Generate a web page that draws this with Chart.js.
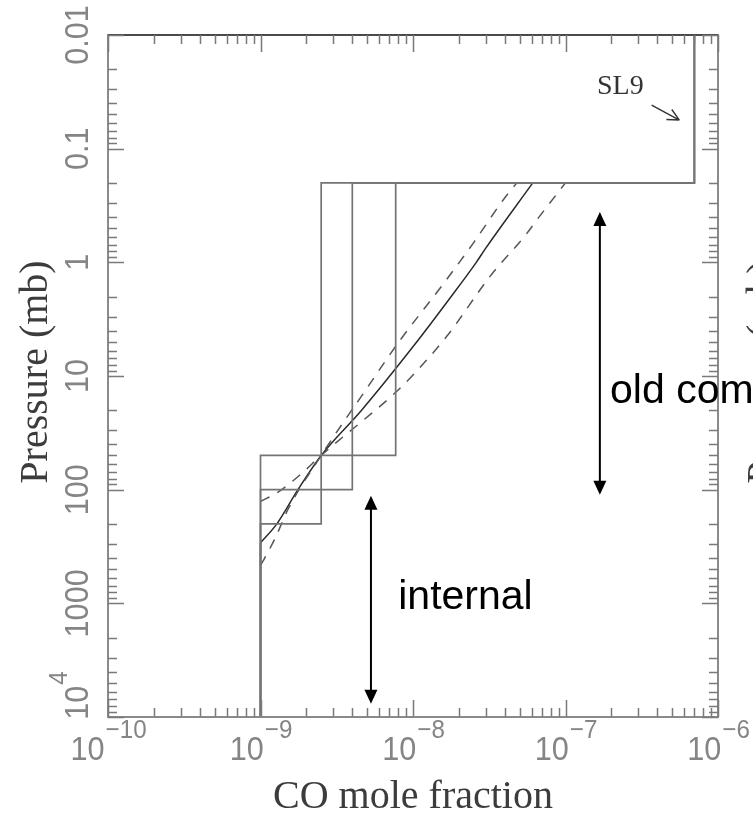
<!DOCTYPE html>
<html><head><meta charset="utf-8">
<script src="https://cdn.jsdelivr.net/npm/chart.js@4"></script>
<style>html,body{margin:0;padding:0;background:#fff;}#wrap{width:753px;height:822px;position:relative;}</style>
</head><body><div id="wrap"><canvas id="c" width="753" height="822"></canvas></div>
<script>
// ---------------- data ----------------
const xDecades = [-10, -9, -8, -7, -6];
const xTickLabels = [['10','\u221210'],['10','\u22129'],['10','\u22128'],['10','\u22127'],['10','\u22126']];
const yTickValues = [0.01, 0.1, 1, 10, 100, 1000, 10000];
const yTickLabels = ['0.01', '0.1', '1', '10', '100', '1000', '10^4'];

// step profiles (CO mole fraction vs pressure in mb)
const stepA_x = [1e-9, 1e-9, 2.5e-9, 2.5e-9, 7e-7, 7e-7];
const stepA_p = [1e4, 200, 200, 0.2, 0.2, 0.01];
const stepB_x = [1e-9, 1e-9, 4e-9, 4e-9, 7e-7, 7e-7];
const stepB_p = [1e4, 100, 100, 0.2, 0.2, 0.01];
const stepC_x = [1e-9, 1e-9, 7.7e-9, 7.7e-9, 7e-7, 7e-7];
const stepC_p = [1e4, 50, 50, 0.2, 0.2, 0.01];

// deep (internal) constant part of the diffusive profiles
const base_x = [1e-9, 1e-9];
const base_p = [1e4, 294];
// diffusive profiles
const solid_x = [1e-9, 1.28e-9, 1.76e-9, 2.5e-9, 4.6e-9, 1.06e-8, 1.75e-8, 2.6e-8, 3.0e-8, 6.1e-8];
const solid_p = [294, 200, 100, 50, 20, 5, 2.06, 1, 0.75, 0.2];
const dashL_x = [1e-9, 1.05e-9, 1.26e-9, 1.51e-9, 2.5e-9, 5.07e-9, 8e-9, 1.62e-8, 2.5e-8, 4.0e-8, 4.8e-8];
const dashL_p = [460, 414, 260, 150, 50, 12.4, 5.1, 1.48, 0.67, 0.27, 0.2];
const dashR_x = [1e-9, 1.32e-9, 1.84e-9, 2.5e-9, 7.8e-9, 1e-8, 1.66e-8, 3.2e-8, 5.5e-8, 6.7e-8, 1.0e-7];
const dashR_p = [127, 104, 73, 50, 13.7, 9.8, 4.5, 1.33, 0.57, 0.4, 0.2];

// ---------------- helpers ----------------
const pts = (xs, ps) => xs.map((v, i) => ({x: v, y: ps[i]}));
const stepStyle = {borderColor: '#747474', borderWidth: 1.7, tension: 0};

function txt(ctx, s, x, y, font, color, sx) {
  ctx.save();
  ctx.font = font; ctx.fillStyle = color; ctx.textBaseline = 'alphabetic'; ctx.textAlign = 'left';
  ctx.translate(x, y); ctx.scale(sx || 1, 1);
  ctx.fillText(s, 0, 0);
  ctx.restore();
}
function tw(ctx, s, font) { ctx.save(); ctx.font = font; const w = ctx.measureText(s).width; ctx.restore(); return w; }

function arrowHead(ctx, tx, ty, dir, len, half) {
  ctx.beginPath();
  ctx.moveTo(tx, ty);
  ctx.lineTo(tx - half, ty - dir * len);
  ctx.lineTo(tx + half, ty - dir * len);
  ctx.closePath();
  ctx.fill();
}
function dblArrow(ctx, x, yTop, yBot) {
  ctx.save();
  ctx.strokeStyle = '#000'; ctx.fillStyle = '#000'; ctx.lineWidth = 2;
  ctx.beginPath(); ctx.moveTo(x, yTop + 10); ctx.lineTo(x, yBot - 10); ctx.stroke();
  arrowHead(ctx, x, yTop, -1, 14, 6.5);
  arrowHead(ctx, x, yBot, 1, 14, 6.5);
  ctx.restore();
}

const LABEL_FONT = '33px "Liberation Sans", Arial, sans-serif';
const SUP_FONT = '26px "Liberation Sans", Arial, sans-serif';
const LABEL_COLOR = '#858585';
const SX = 0.93;

const decor = {
  id: 'decor',
  afterDatasetsDraw(chart) {
    const {ctx, chartArea: a, scales: {x, y}} = chart;
    ctx.save();
    // frame
    ctx.lineWidth = 2;
    ctx.strokeStyle = '#8a8a8a';
    ctx.strokeRect(a.left, a.top, a.right - a.left, a.bottom - a.top);
    ctx.strokeStyle = '#4a4a4a';
    ctx.beginPath(); ctx.moveTo(a.left, a.top); ctx.lineTo(a.right, a.top); ctx.stroke();

    // ticks
    ctx.strokeStyle = '#7a7a7a'; ctx.lineWidth = 1.5;
    const xs = [], ys = [];
    for (let d = -10; d < -6; d++) for (let m = 1; m <= 9; m++) xs.push([m * Math.pow(10, d), m === 1]);
    xs.push([1e-6, true]);
    for (let d = -2; d < 4; d++) for (let m = 1; m <= 9; m++) ys.push([m * Math.pow(10, d), m === 1]);
    ys.push([1e4, true]);
    ctx.beginPath();
    xs.forEach(([v, maj]) => {
      const px = Math.round(x.getPixelForValue(v)) + 0.5, L = maj ? 17 : 9;
      ctx.moveTo(px, a.bottom); ctx.lineTo(px, a.bottom - L);
      ctx.moveTo(px, a.top); ctx.lineTo(px, a.top + L);
    });
    ys.forEach(([v, maj]) => {
      const py = Math.round(y.getPixelForValue(v)) + 0.5, L = maj ? 16 : 9;
      ctx.moveTo(a.left, py); ctx.lineTo(a.left + L, py);
      ctx.moveTo(a.right, py); ctx.lineTo(a.right - L, py);
    });
    ctx.stroke();

    // x tick labels
    xDecades.forEach((d, i) => {
      const px = x.getPixelForValue(Math.pow(10, d));
      const [b, s] = xTickLabels[i];
      const w1 = tw(ctx, b, LABEL_FONT) * SX, w2 = tw(ctx, s, SUP_FONT) * SX;
      const st = px - (w1 + w2) / 2;
      txt(ctx, b, st, 760, LABEL_FONT, LABEL_COLOR, SX);
      txt(ctx, s, st + w1 + 1, 738, SUP_FONT, LABEL_COLOR, SX);
    });

    // y tick labels (rotated)
    yTickValues.forEach((v, i) => {
      const py = y.getPixelForValue(v);
      const lab = yTickLabels[i];
      ctx.save();
      ctx.translate(88, py); ctx.rotate(-Math.PI / 2);
      if (lab.indexOf('^') >= 0) {
        const [b, s] = lab.split('^');
        const w1 = tw(ctx, b, LABEL_FONT) * SX, w2 = tw(ctx, s, SUP_FONT) * SX;
        const st = -(w1 + w2) / 2 + 21;
        txt(ctx, b, st, 0, LABEL_FONT, LABEL_COLOR, SX);
        txt(ctx, s, st + w1 + 1, -21, SUP_FONT, LABEL_COLOR, SX);
      } else {
        const w = tw(ctx, lab, LABEL_FONT) * SX;
        txt(ctx, lab, -w / 2, 0, LABEL_FONT, LABEL_COLOR, SX);
      }
      ctx.restore();
    });

    // axis titles
    const TF = '40px "Liberation Serif", "Times New Roman", serif';
    ctx.font = TF; ctx.fillStyle = '#3c3c3c'; ctx.textAlign = 'center'; ctx.textBaseline = 'alphabetic';
    ctx.fillText('CO mole fraction', (a.left + a.right) / 2, 808);
    ctx.save(); ctx.translate(47, 372); ctx.rotate(-Math.PI / 2);
    ctx.fillText('Pressure (mb)', 0, 0); ctx.restore();
    // fragment of neighbouring panel's title at the right edge
    ctx.save(); ctx.translate(47 + 727, 372); ctx.rotate(-Math.PI / 2);
    ctx.fillText('Pressure (mb)', 0, 0); ctx.restore();

    // SL9 label and arrow
    ctx.textAlign = 'left';
    ctx.font = '28px "Liberation Serif", "Times New Roman", serif'; ctx.fillStyle = '#333';
    ctx.fillText('SL9', x.getPixelForValue(1.61e-7), y.getPixelForValue(0.033));
    const ax1 = x.getPixelForValue(3.67e-7), ay1 = y.getPixelForValue(0.0413);
    const ax2 = x.getPixelForValue(5.58e-7), ay2 = y.getPixelForValue(0.056);
    ctx.strokeStyle = '#333'; ctx.lineWidth = 1.4;
    ctx.beginPath(); ctx.moveTo(ax1, ay1); ctx.lineTo(ax2, ay2);
    const ang = Math.atan2(ay2 - ay1, ax2 - ax1);
    [0.45, -0.45].forEach(o => { ctx.moveTo(ax2, ay2); ctx.lineTo(ax2 - 13 * Math.cos(ang + o), ay2 - 13 * Math.sin(ang + o)); });
    ctx.stroke();

    // range arrows and labels
    dblArrow(ctx, x.getPixelForValue(1.68e-7), y.getPixelForValue(0.36), y.getPixelForValue(111));
    dblArrow(ctx, x.getPixelForValue(5.3e-9), y.getPixelForValue(113), y.getPixelForValue(7660));
    const AF = '41px "Liberation Sans", Arial, sans-serif';
    ctx.font = AF; ctx.fillStyle = '#000';
    ctx.fillText('internal', x.getPixelForValue(8e-9), y.getPixelForValue(1120));
    ctx.fillText('old com', x.getPixelForValue(1.96e-7), y.getPixelForValue(17.3));
    ctx.restore();
  }
};

const curve = {cubicInterpolationMode: 'monotone'};
new Chart(document.getElementById('c'), {
  type: 'scatter',
  data: {
    datasets: [
      {data: pts(stepA_x, stepA_p), ...stepStyle},
      {data: pts(stepB_x, stepB_p), ...stepStyle},
      {data: pts(stepC_x, stepC_p), ...stepStyle},
      {data: pts(base_x, base_p), borderColor: '#2a2a2a', borderWidth: 1.6, tension: 0},
      {data: pts(dashL_x, dashL_p), borderColor: '#555', borderWidth: 1.5, borderDash: [10, 9], ...curve},
      {data: pts(dashR_x, dashR_p), borderColor: '#555', borderWidth: 1.5, borderDash: [10, 9], ...curve},
      {data: pts(solid_x, solid_p), borderColor: '#2a2a2a', borderWidth: 1.5, ...curve}
    ].map(d => Object.assign({showLine: true, pointRadius: 0, fill: false}, d))
  },
  options: {
    responsive: false, animation: false,
    layout: {padding: {left: 108, top: 35, right: 35, bottom: 105}},
    plugins: {legend: {display: false}, tooltip: {enabled: false}},
    scales: {
      x: {type: 'logarithmic', min: 1e-10, max: 1e-6, display: false},
      y: {type: 'logarithmic', min: 0.01, max: 1e4, reverse: true, display: false}
    }
  },
  plugins: [decor]
});
</script></body></html>
